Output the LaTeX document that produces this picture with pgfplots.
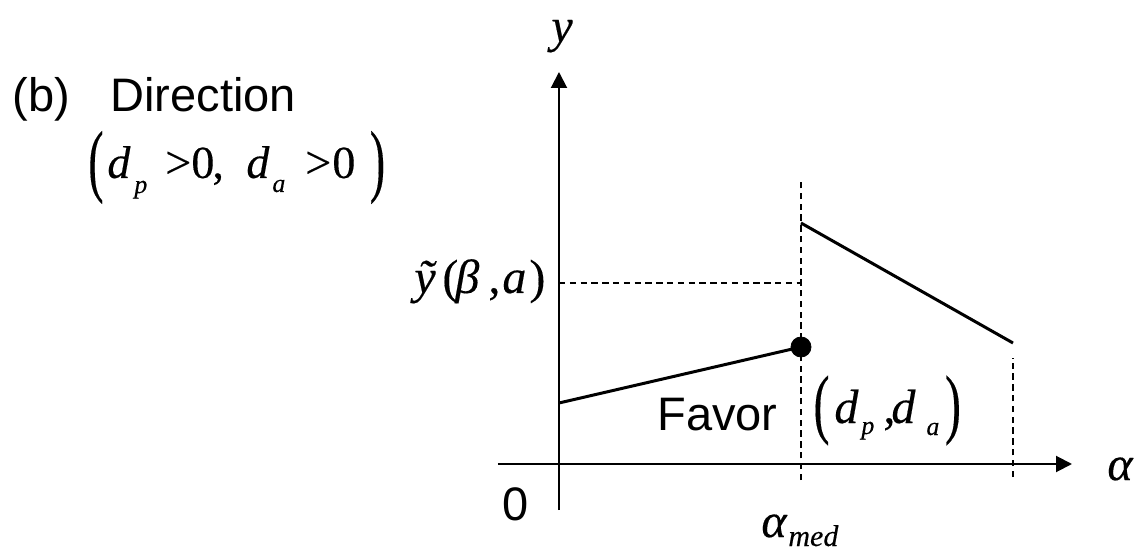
\documentclass[border=0pt]{standalone}
\usepackage{fontspec}
\setmainfont{Liberation Sans}
\newfontfamily\tms{Liberation Serif}[FakeBold=0.3]
\usepackage{graphicx}
\usepackage{pgfplots}
\pgfplotsset{compat=1.18}
\usetikzlibrary{arrows.meta}

\newcommand\sz[1]{\fontsize{#1}{#1}\selectfont}
\newcommand\mi[2][24pt]{{\sz{#1}\tms\itshape #2}}
\newcommand\mr[2][24pt]{{\sz{#1}\tms #2}}

\tikzset{
  lbl/.style={inner sep=0pt, anchor=base west},
  dsh/.style={line width=1pt, dash pattern=on 3.2pt off 2.2pt},
}

\begin{document}
\begin{tikzpicture}
\useasboundingbox (-279.5pt,-43.5pt) rectangle (290pt,232pt);
\begin{axis}[
  anchor=origin, at={(0,0)},
  x=0.5pt, y=0.5pt,
  xmin=-61, xmax=513, ymin=-46, ymax=392,
  axis lines=middle,
  axis line style={line width=1pt},
  inner axis line style={-{Triangle[width=8pt,length=8pt]}},
  xtick=\empty, ytick=\empty,
  clip=false,
]
% dashed guides
\addplot[dsh, no marks] coordinates {(242,-16) (242,285)};
\addplot[dsh, no marks] coordinates {(0,181) (242,181)};
\addplot[dsh, no marks] coordinates {(454,-13) (454,106)};
% the two pieces of y
\addplot[line width=1.5pt, no marks] coordinates {(0,61) (242,117)};
\addplot[line width=1.5pt, no marks] coordinates {(242,241) (454,121)};
\addplot[only marks, mark=*, mark size=5pt] coordinates {(242,117)};

% axis names
\node[lbl] at (-8,422) {\mi{y}};
\node[lbl] at (548,-16) {\mi{α}};
\node[inner sep=0pt, anchor=base] at (-43,-56) {\sz{23.5pt}0};
\node[lbl] at (202,-73) {\mi{α}};
\node[lbl] at (229,-82) {\mi[15pt]{med}};

% y tilde label
\node[lbl] at (-145,171) {\mi{ỹ}};
\node[lbl] at (-117,171) {\mr{(}};
\node[lbl] at (-104,171) {\mi{β}};
\node[lbl] at (-71,171) {\mr{,}};
\node[lbl] at (-57,171) {\mi{a}};
\node[lbl] at (-30,171) {\mr{)}};

% Favor (d_p,d_a)
\node[lbl] at (98,34) {\sz{23.5pt}Favor};
\node[inner sep=0pt] at (262.5,53.5) {\mr{\scalebox{1}[1.6]{(}}};
\node[lbl] at (275,41) {\mi{d}};
\node[lbl] at (302,30) {\mi[13pt]{p}};
\node[lbl] at (324,41) {\mr{,}};
\node[lbl] at (332,41) {\mi{d}};
\node[lbl] at (367,29) {\mi[13pt]{a}};
\node[inner sep=0pt] at (394,53.5) {\mr{\scalebox{1}[1.6]{)}}};

% panel title
\node[lbl] at (-547,352) {\sz{23.5pt}(b)};
\node[lbl] at (-449,352) {\sz{23.5pt}Direction};
\node[inner sep=0pt] at (-463,296.5) {\mr[23pt]{\scalebox{1}[1.75]{(}}};
\node[lbl] at (-452,286) {\mi[23pt]{d}};
\node[lbl] at (-425,271) {\mi[13pt]{p}};
\node[lbl] at (-394,286) {\mr[23pt]{>}};
\node[lbl] at (-368,286) {\mr[23pt]{0}};
\node[lbl] at (-347,286) {\mr[23pt]{,}};
\node[lbl] at (-313,286) {\mi[23pt]{d}};
\node[lbl] at (-287,272) {\mi[13pt]{a}};
\node[lbl] at (-254,286) {\mr[23pt]{>}};
\node[lbl] at (-227,286) {\mr[23pt]{0}};
\node[inner sep=0pt] at (-181.5,296.5) {\mr[23pt]{\scalebox{1}[1.75]{)}}};
\end{axis}
\end{tikzpicture}
\end{document}
